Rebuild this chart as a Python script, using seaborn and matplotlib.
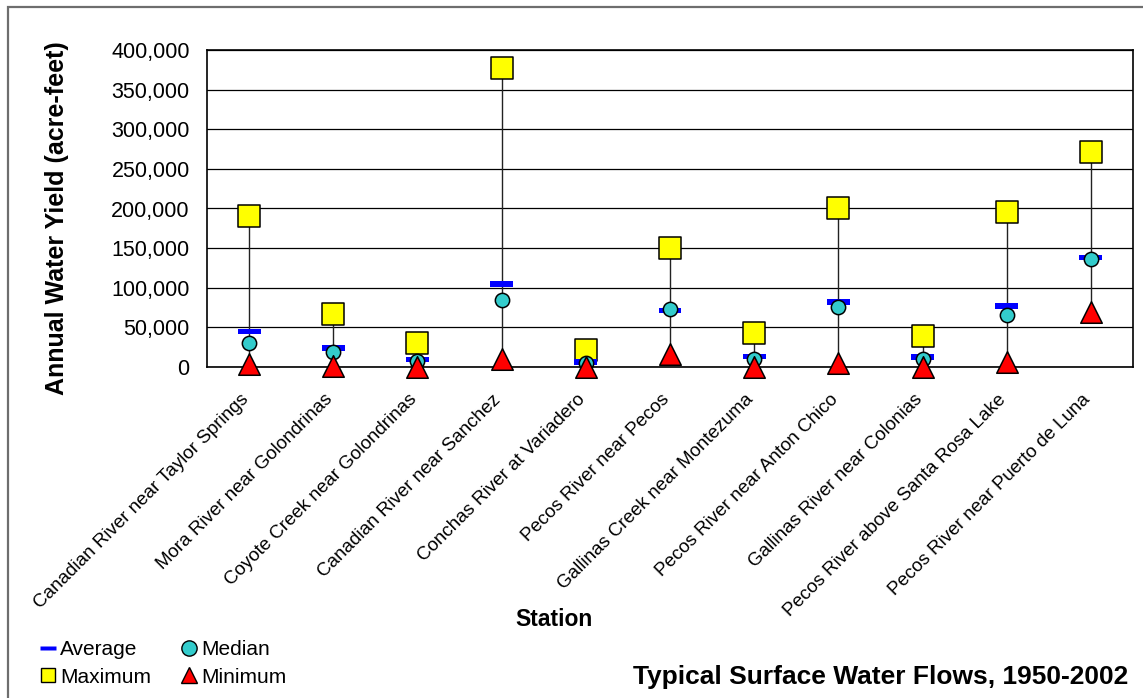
import numpy as np
import pandas as pd
import matplotlib
matplotlib.use("Agg")
import matplotlib.pyplot as plt
import matplotlib.transforms as mtransforms
from matplotlib.lines import Line2D
from matplotlib.patches import Rectangle
import seaborn as sns

# ---- data (acre-feet) ----
stations = [
    "Canadian River near Taylor Springs",
    "Mora River near Golondrinas",
    "Coyote Creek near Golondrinas",
    "Canadian River near Sanchez",
    "Conchas River at Variadero",
    "Pecos River near Pecos",
    "Gallinas Creek near Montezuma",
    "Pecos River near Anton Chico",
    "Gallinas River near Colonias",
    "Pecos River above Santa Rosa Lake",
    "Pecos River near Puerto de Luna",
]
maximum = [190000, 67000, 30000, 377000, 21000, 150000, 43000, 200000, 39000, 196000, 271000]
average = [45000, 24000, 9500, 105000, 6000, 71000, 13500, 82000, 12500, 77000, 138000]
median = [30000, 19000, 7500, 84000, 4500, 73000, 10500, 76000, 10500, 66000, 136000]
minimum = [3500, 900, 0, 10500, 0, 16800, 0, 5400, 0, 6300, 69000]

yticks = [0, 50000, 100000, 150000, 200000, 250000, 300000, 350000, 400000]

df = pd.DataFrame({
    "pos": np.arange(len(stations)),
    "station": stations,
    "Maximum": maximum,
    "Average": average,
    "Median": median,
    "Minimum": minimum,
})

sns.set_style("white")
plt.rcParams["font.family"] = ["Liberation Sans", "DejaVu Sans"]
plt.rcParams["text.color"] = "black"
plt.rcParams["xtick.color"] = "black"
plt.rcParams["ytick.color"] = "black"

fig = plt.figure(figsize=(11.43, 6.98), dpi=100)
ax = fig.add_axes([207 / 1143, 1 - 367 / 698, 926 / 1143, 317 / 698])

# whole-chart border (only left and top visible)
fig.patches.append(Rectangle((8 / 1143, -0.05), 1.1, 1 - 7 / 698 + 0.05,
                             transform=fig.transFigure, fill=False,
                             edgecolor="#6e6e6e", linewidth=1.6))

# gridlines
for y in yticks:
    ax.axhline(y, color="black", linewidth=0.9, zorder=1)

# min-max range lines
ax.vlines(df["pos"], df["Minimum"], df["Maximum"], color="#222222",
          linewidth=1.0, zorder=2)

# flat bar used for the average marker
dash = [(-1, -0.24), (1, -0.24), (1, 0.24), (-1, 0.24), (-1, -0.24)]

sns.scatterplot(data=df, x="pos", y="Maximum", marker="s", s=15.5 ** 2,
                color="#FFFF00", edgecolor="black", linewidth=1.1, ax=ax,
                zorder=3, legend=False, clip_on=False)
sns.scatterplot(data=df, x="pos", y="Average", marker=dash, s=16.5 ** 2,
                color="#0000FF", edgecolor="none", linewidth=0, ax=ax,
                zorder=4, legend=False, clip_on=False)
sns.scatterplot(data=df, x="pos", y="Median", marker="o", s=10.3 ** 2,
                color="#33CCCC", edgecolor="black", linewidth=1.1, ax=ax,
                zorder=5, legend=False, clip_on=False)
sns.scatterplot(data=df, x="pos", y="Minimum", marker="^", s=15.5 ** 2,
                color="#FF0000", edgecolor="black", linewidth=1.1, ax=ax,
                zorder=6, legend=False, clip_on=False)

ax.set_xlim(-0.5, len(stations) - 0.5)
ax.set_ylim(0, 400000)
ax.set_yticks(yticks)
ax.set_yticklabels([f"{v:,}" for v in yticks], fontsize=15.5)

# category ticks between stations, labels at centres
ax.set_xticks(np.arange(len(stations) + 1) - 0.5)
ax.set_xticklabels([])
ax.set_xticks(df["pos"], minor=True)
ax.set_xticklabels(stations, minor=True, rotation=45, ha="right",
                   va="baseline", rotation_mode="anchor", fontsize=13.5)
shift = mtransforms.ScaledTranslation(-6 / 100, 0, fig.dpi_scale_trans)
for lbl in ax.get_xticklabels(minor=True):
    lbl.set_transform(lbl.get_transform() + shift)
ax.tick_params(axis="x", which="major", direction="inout", length=10,
               width=1, color="black")
ax.tick_params(axis="x", which="minor", length=0, pad=24)
ax.tick_params(axis="y", direction="out", length=6.5, width=1,
               color="black", pad=6)

for side in ["left", "right", "top", "bottom"]:
    ax.spines[side].set_visible(True)
    ax.spines[side].set_color("black")
    ax.spines[side].set_linewidth(1.2)

ax.set_xlabel("")
ax.set_ylabel("")
fig.text(57 / 1143, 1 - 218 / 698, "Annual Water Yield (acre-feet)",
         rotation=90, ha="center", va="center", fontsize=18,
         fontweight="bold")
fig.text(554 / 1143, 1 - 619 / 698, "Station", ha="center", va="center",
         fontsize=16.5, fontweight="bold")
fig.text(1128 / 1143, 1 - 677 / 698, "Typical Surface Water Flows, 1950-2002",
         ha="right", va="center", fontsize=19, fontweight="bold")

handles = [
    Line2D([], [], linestyle="none", marker=dash, markersize=11,
           markerfacecolor="#0000FF", markeredgecolor="none"),
    Line2D([], [], linestyle="none", marker="s", markersize=10.5,
           markerfacecolor="#FFFF00", markeredgecolor="black", markeredgewidth=1),
    Line2D([], [], linestyle="none", marker="o", markersize=11,
           markerfacecolor="#33CCCC", markeredgecolor="black", markeredgewidth=1),
    Line2D([], [], linestyle="none", marker="^", markersize=12,
           markerfacecolor="#FF0000", markeredgecolor="black", markeredgewidth=1),
]
labels = ["Average", "Maximum", "Median", "Minimum"]
fig.legend(handles, labels, ncol=2, loc="lower left",
           bbox_to_anchor=(34 / 1143, 5 / 698), frameon=False, fontsize=15,
           handlelength=0.7, handletextpad=0.25, columnspacing=1.45,
           labelspacing=0.4, borderaxespad=0.0, borderpad=0.3)

fig.savefig("out.png", dpi=100)
